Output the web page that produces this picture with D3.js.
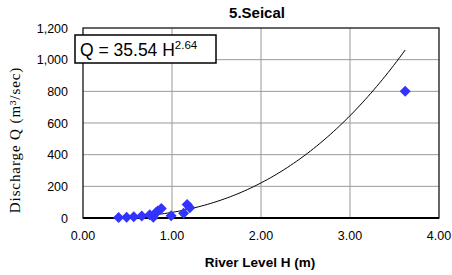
<!DOCTYPE html>
<html lang="en">
<head>
  <meta charset="UTF-8">
  <title>5.Seical</title>
  <style>
    body { margin: 0; background: #fff; }
  </style>
</head>
<body>
  <svg id="svg" width="452" height="275"></svg>

  <script src="https://d3js.org/d3.v7.min.js"></script>
  <script>
    // observed gauge readings
    const levels = [0.40, 0.49, 0.57, 0.66, 0.75, 0.79, 0.82, 0.84, 0.88, 0.99, 1.13, 1.17, 1.20, 3.62]
    const discharges = [3, 5, 8, 12, 20, 5, 35, 45, 60, 15, 30, 85, 65, 800]

    // rating curve Q = a H^b
    const coefA = 35.54
    const coefB = 2.64
    const curveStart = 0.40
    const curveEnd = 3.62

    const xTicks = [0, 1, 2, 3, 4]
    const yTicks = [0, 200, 400, 600, 800, 1000, 1200]

    const svg = d3.select("#svg")
    const plotL = 83, plotR = 439, plotT = 28, plotB = 218

    const xScale = d3.scaleLinear().domain([0, 4]).range([plotL, plotR])
    const yScale = d3.scaleLinear().domain([0, 1200]).range([plotB, plotT])

    // grid
    svg.append("g").selectAll("line")
      .data(xTicks.slice(1, -1))
      .enter().append("line")
      .attr("x1", d => xScale(d)).attr("x2", d => xScale(d))
      .attr("y1", plotT).attr("y2", plotB)
      .attr("stroke", "#999").attr("stroke-width", 1)

    svg.append("g").selectAll("line")
      .data(yTicks.slice(1, -1))
      .enter().append("line")
      .attr("x1", plotL).attr("x2", plotR)
      .attr("y1", d => yScale(d)).attr("y2", d => yScale(d))
      .attr("stroke", "#999").attr("stroke-width", 1)

    // frame
    svg.append("rect")
      .attr("x", plotL).attr("y", plotT)
      .attr("width", plotR - plotL).attr("height", plotB - plotT)
      .attr("fill", "none").attr("stroke", "#000").attr("stroke-width", 1.2)
    svg.append("line")
      .attr("x1", plotL).attr("x2", plotR)
      .attr("y1", plotB).attr("y2", plotB)
      .attr("stroke", "#000").attr("stroke-width", 2)

    // tick labels
    svg.append("g").selectAll("text")
      .data(xTicks)
      .enter().append("text")
      .attr("x", d => xScale(d))
      .attr("y", 240)
      .attr("text-anchor", "middle")
      .attr("font-family", "Liberation Sans, Arial, sans-serif")
      .attr("font-size", 12.5)
      .text(d => d.toFixed(2))

    svg.append("g").selectAll("text")
      .data(yTicks)
      .enter().append("text")
      .attr("x", 68)
      .attr("y", d => yScale(d) + 4.5)
      .attr("text-anchor", "end")
      .attr("font-family", "Liberation Sans, Arial, sans-serif")
      .attr("font-size", 12.5)
      .text(d => d3.format(",")(d))

    // fitted curve
    const curvePts = d3.range(0, 101).map(i => {
      const h = curveStart + (curveEnd - curveStart) * i / 100
      return [h, coefA * Math.pow(h, coefB)]
    })
    svg.append("path")
      .datum(curvePts)
      .attr("fill", "none")
      .attr("stroke", "#000")
      .attr("stroke-width", 1)
      .attr("d", d3.line().x(d => xScale(d[0])).y(d => yScale(d[1])))

    // observations (square diamonds, like the spreadsheet marker)
    const r = 5.5
    const diamond = `M0,${-r}L${r},0L0,${r}L${-r},0Z`
    const obs = levels.map((h, i) => ({ h: h, q: discharges[i] }))
    svg.append("g").selectAll("path")
      .data(obs)
      .enter().append("path")
      .attr("transform", d => `translate(${xScale(d.h)},${yScale(d.q)})`)
      .attr("d", diamond)
      .attr("fill", "#3333ff")

    // equation box
    svg.append("rect")
      .attr("x", 75).attr("y", 35)
      .attr("width", 141).attr("height", 28)
      .attr("fill", "#fff").attr("stroke", "#000").attr("stroke-width", 1.5)
    const eq = svg.append("text")
      .attr("x", 80).attr("y", 56)
      .attr("font-family", "Liberation Sans, Arial, sans-serif")
      .attr("font-size", 17.5)
    eq.append("tspan").text(`Q = ${coefA} H`)
    eq.append("tspan").attr("dy", -7).attr("font-size", 11.5).text(coefB.toFixed(2))

    // titles
    svg.append("text")
      .attr("x", 257).attr("y", 18)
      .attr("text-anchor", "middle")
      .attr("font-family", "Liberation Sans, Arial, sans-serif")
      .attr("font-weight", "bold")
      .attr("font-size", 15)
      .text("5.Seical")

    svg.append("text")
      .attr("x", 260).attr("y", 267)
      .attr("text-anchor", "middle")
      .attr("font-family", "Liberation Sans, Arial, sans-serif")
      .attr("font-weight", "bold")
      .attr("font-size", 13.5)
      .text("River Level H (m)")

    svg.append("text")
      .attr("transform", "translate(20,140) rotate(-90)")
      .attr("text-anchor", "middle")
      .attr("font-family", "Liberation Serif, Times New Roman, serif")
      .attr("font-size", 15)
      .attr("letter-spacing", 0.9)
      .text("Discharge Q (m³/sec)")
  </script>
</body>
</html>
